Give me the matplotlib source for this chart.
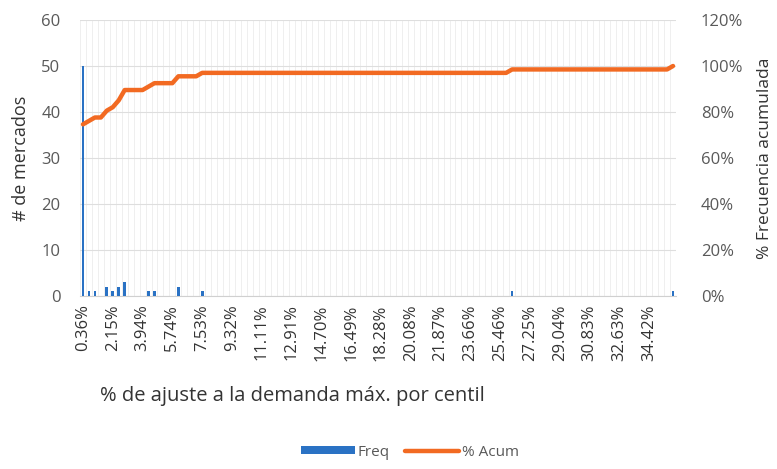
import matplotlib.pyplot as plt
import numpy as np
from matplotlib.ticker import FuncFormatter

plt.rcParams['font.family'] = ['Open Sans', 'DejaVu Sans']

# frequency per centile bin (100 bins)
freq = [
    50, 1, 1, 0, 2, 1, 2, 3, 0, 0, 0, 1, 1, 0, 0, 0, 2, 0, 0, 0,
    1, 0, 0, 0, 0, 0, 0, 0, 0, 0, 0, 0, 0, 0, 0, 0, 0, 0, 0, 0,
    0, 0, 0, 0, 0, 0, 0, 0, 0, 0, 0, 0, 0, 0, 0, 0, 0, 0, 0, 0,
    0, 0, 0, 0, 0, 0, 0, 0, 0, 0, 0, 0, 1, 0, 0, 0, 0, 0, 0, 0,
    0, 0, 0, 0, 0, 0, 0, 0, 0, 0, 0, 0, 0, 0, 0, 0, 0, 0, 0, 1,
]

# labels shown every 5th bin
tick_labels = ["0.36%", "2.15%", "3.94%", "5.74%", "7.53%", "9.32%", "11.11%",
               "12.91%", "14.70%", "16.49%", "18.28%", "20.08%", "21.87%",
               "23.66%", "25.46%", "27.25%", "29.04%", "30.83%", "32.63%",
               "34.42%"]

acum = np.cumsum(freq) / np.sum(freq)

blue = "#2a72c4"
orange = "#f26a22"
txt = "#595959"
grid = "#dedede"

fig = plt.figure(figsize=(7.77, 4.69), dpi=100)
ax = fig.add_axes([80 / 777, 1 - 296 / 469, 596 / 777, 276 / 469])
ax2 = ax.twinx()

x = np.arange(len(freq))
ax.bar(x, freq, width=0.45, color=blue, label="Freq", zorder=3)
ax2.plot(x, acum, color=orange, lw=3.2, solid_capstyle="round", label="% Acum", zorder=4)

ax.set_xlim(-0.5, len(freq) - 0.5)
ax.set_ylim(0, 60)
ax.set_yticks(np.arange(0, 61, 10))
ax2.set_ylim(0, 1.2)
ax2.set_yticks(np.arange(0, 1.21, 0.2))
ax2.yaxis.set_major_formatter(FuncFormatter(lambda v, p: f"{v * 100:.0f}%"))

ax.set_xticks(x[::5])
ax.set_xticklabels(tick_labels, rotation=90, color="#333333")

# gridlines
for b in np.arange(-0.5, len(freq), 1):
    ax.axvline(b, color="#ececec", lw=0.6, zorder=0)
ax.yaxis.grid(True, color=grid, lw=0.8, zorder=1)
ax.set_axisbelow(True)

for a in (ax, ax2):
    for s in a.spines.values():
        s.set_visible(False)
    a.tick_params(length=0, colors=txt, labelsize=12)
ax.spines["bottom"].set_visible(True)
ax.spines["bottom"].set_color("#d0d0d0")
ax.tick_params(axis="y", pad=14)
ax2.tick_params(axis="y", pad=18)
ax.tick_params(axis="x", pad=6, labelsize=12, labelcolor="#333333")

ax.set_ylabel("# de mercados", fontsize=13, color="#333333", labelpad=8)
ax2.set_ylabel("% Frecuencia acumulada", fontsize=12.5, color="#333333", labelpad=10)

fig.text(292 / 777, 1 - 396 / 469, "% de ajuste a la demanda máx. por centil",
         ha="center", va="center", fontsize=14.5, color="#333333")

h1, l1 = ax.get_legend_handles_labels()
h2, l2 = ax2.get_legend_handles_labels()
fig.legend(h1 + h2, l1 + l2, loc="center", bbox_to_anchor=(410 / 777, 1 - 452 / 469),
           ncol=2, frameon=False, fontsize=11, labelcolor=txt,
           handlelength=3.5, handleheight=0.5, columnspacing=1.0, handletextpad=0.2)

fig.savefig("out.png", dpi=100, facecolor="white")
